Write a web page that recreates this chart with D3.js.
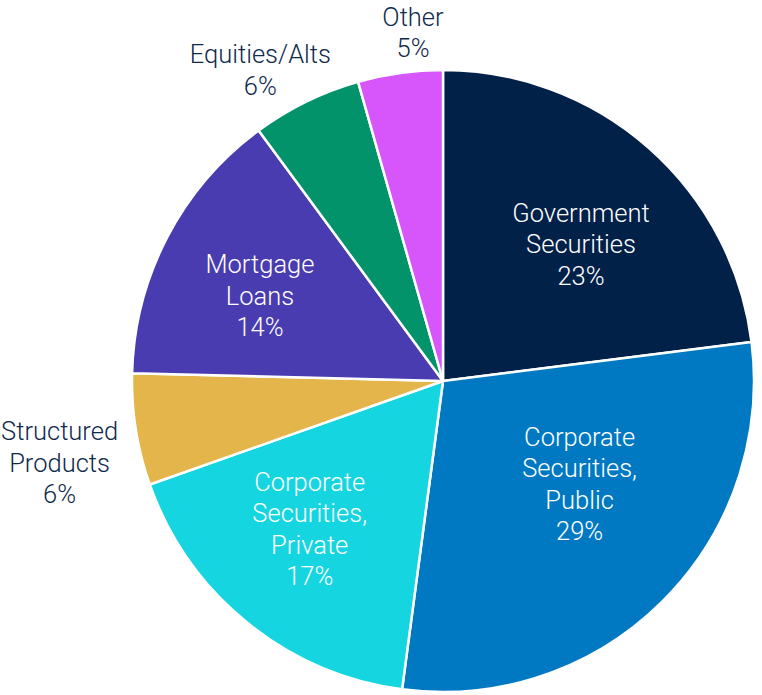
<!DOCTYPE html>
<html><head><meta charset="utf-8">
<script src="https://cdn.jsdelivr.net/npm/d3@7"></script>
<style>html,body{margin:0;padding:0;background:#fff;}svg{display:block;}</style>
</head><body>
<svg id="c" width="762" height="695"></svg>
<script>
const categories = ["Government Securities","Corporate Securities, Public","Corporate Securities, Private","Structured Products","Mortgage Loans","Equities/Alts","Other"];
const labelLines = [["Government","Securities"],["Corporate","Securities,","Public"],["Corporate","Securities,","Private"],["Structured","Products"],["Mortgage","Loans"],["Equities/Alts"],["Other"]];
const values = [23.0, 29.1, 17.5, 5.8, 14.5, 5.7, 4.4];
const pctLabels = ["23%","29%","17%","6%","14%","6%","5%"];
const colors = ["#012149","#0079c2","#15d5e0","#e3b54b","#493bb0","#02936a","#d756fc"];
const inside = [true,true,true,false,true,false,false];
// label placement: [radius, angle shift in degrees] relative to slice middle
const labelPlace = [[194.5,3.8],[171,-8.2],[199,3],[392,-3],[202,-2.5],[361,-4.3],[350,3]];

const svg = d3.select("#c");
const cx = 443, cy = 381, R = 311;
const g = svg.append("g").attr("transform",`translate(${cx},${cy})`);
const pie = d3.pie().sort(null).value(d=>d)(values);
const arc = d3.arc().innerRadius(0).outerRadius(R);
g.selectAll("path").data(pie).join("path")
  .attr("d",arc).attr("fill",(d,i)=>colors[i])
  .attr("stroke","#fff").attr("stroke-width",2.5).attr("stroke-linejoin","round");

const fs = 25.5, lh = 31.5;
pie.forEach((d,i)=>{
  const mid = (d.startAngle+d.endAngle)/2 + labelPlace[i][1]*Math.PI/180;
  const r = labelPlace[i][0];
  const x = r*Math.sin(mid), y = -r*Math.cos(mid);
  const lines = labelLines[i].concat([pctLabels[i]]);
  const n = lines.length;
  const t = g.append("text").attr("text-anchor","middle")
    .attr("font-family","Roboto, 'Noto Sans', sans-serif").attr("font-size",fs)
    .attr("font-weight",300)
    .attr("fill", inside[i] ? "#ffffff" : "#0f2a4c");
  lines.forEach((s,k)=>{
    t.append("tspan").attr("x",x).attr("y", y + (k-(n-1)/2)*lh + fs*0.36).text(s);
  });
});
</script>
</body></html>
